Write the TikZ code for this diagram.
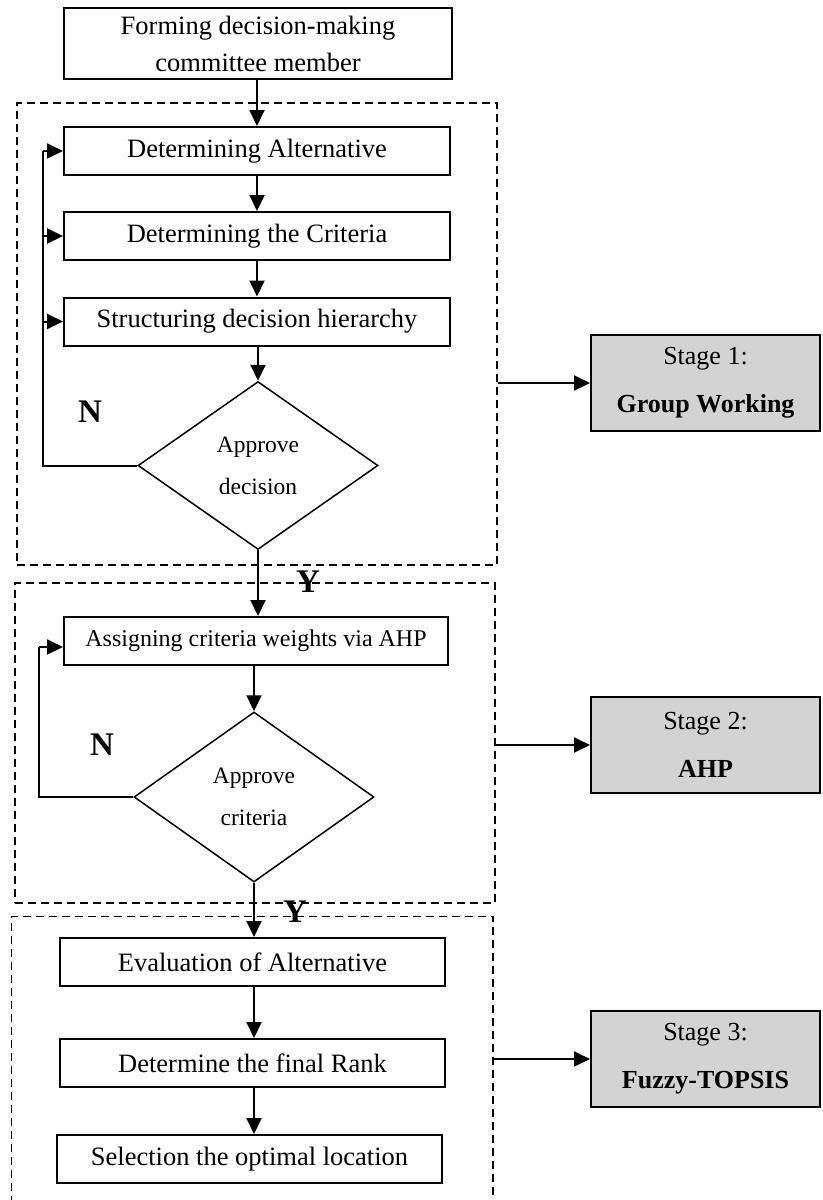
\documentclass[tikz,border=0pt]{standalone}
\usepackage{fontspec}
\setmainfont{Liberation Serif}
\usetikzlibrary{shapes.geometric,arrows.meta}
\definecolor{stagegray}{RGB}{211,211,211}
\begin{document}
\begin{tikzpicture}[x=0.5pt,y=-0.5pt,
  procbox/.style={draw,line width=1pt,inner sep=0pt,minimum width=193pt,minimum height=24pt,
    font=\fontsize{13.25}{18.5}\selectfont,align=center},
  decide/.style={draw,diamond,line width=0.75pt,inner sep=0pt,minimum width=120pt,minimum height=84pt,
    font=\fontsize{11.75}{21}\selectfont,align=center},
  stagebox/.style={draw,line width=1pt,fill=stagegray,inner sep=0pt,minimum width=114.5pt,minimum height=48pt,
    font=\fontsize{13}{24}\selectfont,align=center},
  groupbox/.style={dash pattern=on 4pt off 2.5pt,line width=0.75pt,inner sep=0pt},
  flow/.style={line width=1pt,-{Triangle[length=8pt,width=7.5pt]}},
  plain/.style={line width=1pt},
  answer/.style={font=\fontsize{16.5}{18}\selectfont\bfseries,inner sep=0pt}
]
\useasboundingbox (0,0) rectangle (823,1200);

% dashed stage groups
\node[groupbox,draw,minimum width=240pt,minimum height=231pt] (g1) at (257,334) {};
\node[groupbox,draw,minimum width=240pt,minimum height=160pt] (g2) at (255,743) {};
\node[groupbox,minimum width=240pt,minimum height=143pt] (g3) at (252,1060) {};
\draw[groupbox] (g3.south west) -- (g3.north west) -- (g3.north east) -- (g3.south east);

% process steps
\node[procbox,minimum width=194pt,minimum height=35.5pt] (top) at (258,43.5)
  {Forming decision-making\\committee member};
\node[procbox] (alt) at (257,151) {Determining Alternative};
\node[procbox] (crit) at (257,236) {Determining the Criteria};
\node[procbox] (struct) at (257,321.5) {Structuring decision hierarchy};
\node[decide] (dec1) at (258,465.5) {Approve\\decision};

\node[procbox,minimum width=192pt,font=\fontsize{12}{16}\selectfont] (assign) at (256,641)
  {Assigning criteria weights via AHP};
\node[decide,minimum height=85pt] (dec2) at (254,797) {Approve\\criteria};

\node[procbox,minimum width=192.5pt] (eval) at (252.5,962) {Evaluation of Alternative};
\node[procbox,minimum width=192.5pt] (rank) at (252.5,1063) {Determine the final Rank};
\node[procbox,minimum width=192.5pt] (select) at (249.5,1159) {Selection the optimal location};

% stage labels
\node[stagebox] (s1) at (705.5,383) {Stage 1:\\\textbf{Group Working}};
\node[stagebox] (s2) at (705.5,745) {Stage 2:\\\textbf{AHP}};
\node[stagebox] (s3) at (705.5,1059) {Stage 3:\\\textbf{Fuzzy-TOPSIS}};

% yes / no marks
\node[answer] (n1) at (90,412) {N};
\node[answer] (y1) at (308,582) {Y};
\node[answer] (n2) at (102,745) {N};
\node[answer] (y2) at (295,912) {Y};

% main flow
\draw[flow] (top.south -| alt.north) -- (alt.north);
\draw[flow] (alt) -- (crit);
\draw[flow] (crit) -- (struct);
\draw[flow] (struct.south -| dec1.north) -- (dec1.north);
\draw[flow] (dec1.south) -- (dec1.south |- assign.north);
\draw[flow] (assign.south -| dec2.north) -- (dec2.north);
\draw[flow] (dec2.south) -- (dec2.south |- eval.north);
\draw[flow] (eval.south -| dec2.south) -- (dec2.south |- rank.north);
\draw[flow] (rank.south -| dec2.south) -- (dec2.south |- select.north);

% feedback loops
\coordinate (lp1) at (43,151);
\draw[plain] (dec1.west) -| (lp1);
\draw[flow] (lp1) -- (alt.west);
\draw[flow] (lp1 |- crit.west) -- (crit.west);
\draw[flow] (lp1 |- struct.west) -- (struct.west);

\coordinate (lp2) at (39,647);
\draw[plain] (dec2.west) -| (lp2);
\draw[flow] (lp2) -- (lp2 -| assign.west);

% stage pointers
\draw[flow] (g1.east |- s1.west) -- (s1.west);
\draw[flow] (g2.east |- s2.west) -- (s2.west);
\draw[flow] (g3.east |- s3.west) -- (s3.west);
\end{tikzpicture}
\end{document}
